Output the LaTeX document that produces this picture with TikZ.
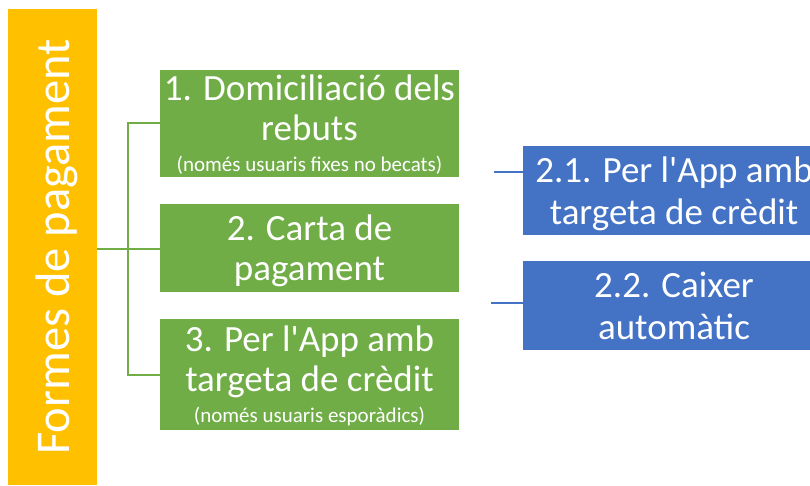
\documentclass[tikz,border=0pt]{standalone}
\usepackage{fontspec}
\setmainfont{Carlito}
\usepackage{tikz}
\usetikzlibrary{positioning}

\definecolor{cYellow}{HTML}{FFC000}
\definecolor{cGreen}{HTML}{70AD47}
\definecolor{cBlue}{HTML}{4472C4}
\newcommand{\smallnote}[1]{{\fontsize{21}{24}\selectfont #1}}

\begin{document}
\begin{tikzpicture}
[
	x	= 1pt,	% one unit per pixel of the original
	y	= -1pt,	% downwards, as in the original
	titlebox/.style = {shape = rectangle, fill = cYellow, text = white, rotate = 90, minimum width = 476pt, minimum height = 89pt, inner sep = 0pt, text depth = 0pt, font = \fontsize{48.5}{56}\selectfont},
	greenbox/.style = {shape = rectangle, fill = cGreen, text = white, minimum width = 299pt, inner sep = 0pt, text depth = 0pt, align = center, font = \fontsize{37}{40}\selectfont},
	bluebox/.style = {shape = rectangle, fill = cBlue, text = white, minimum width = 302pt, minimum height = 89pt, inner sep = 0pt, text depth = 0pt, align = center, font = \fontsize{37}{42}\selectfont},
	greenline/.style = {draw = cGreen, line width = 2pt},
	blueline/.style = {draw = cBlue, line width = 2pt},
]

{
	\useasboundingbox (0,0) rectangle (810,486);
	\clip (0,0) rectangle (810,486);

	% nodes declaration
	\node (nTitle) [titlebox] at (52.5,247) {Formes de pagament};

	\node (nOne) [greenbox, minimum height = 107pt] at (309.5,123.5) {1. Domiciliació dels\\ rebuts\\[-9pt] \smallnote{(només usuaris fixes no becats)}};
	\node (nTwo) [greenbox, minimum height = 88pt] at (309.5,248) {2. Carta de\\ pagament};
	\node (nThree) [greenbox, minimum height = 111pt] at (309.5,374.5) {3. Per l\textquotesingle App amb\\ targeta de crèdit\\[-9pt] \smallnote{(només usuaris esporàdics)}};

	\node (nTwoOne) [bluebox] at (674,190.5) {2.1. Per l\textquotesingle App amb\\ targeta de crèdit};
	\node (nTwoTwo) [bluebox] at (674,305.5) {2.2. Caixer\\ automàtic};

	\coordinate (cFork) at (128,249);
	\coordinate (cStubOne) at (494,172);
	\coordinate (cStubTwo) at (491,303);

	% edges declaration
	\draw [greenline] (nTitle.south |- cFork) -- (cFork);
	\draw [greenline] (cFork) |- (nOne.west);
	\draw [greenline] (cFork) -- (nTwo.west |- cFork);
	\draw [greenline] (cFork) |- (nThree.west);
	\draw [blueline] (cStubOne) -- (nTwoOne.west |- cStubOne);
	\draw [blueline] (cStubTwo) -- (nTwoTwo.west |- cStubTwo);
}

\end{tikzpicture}
\end{document}
